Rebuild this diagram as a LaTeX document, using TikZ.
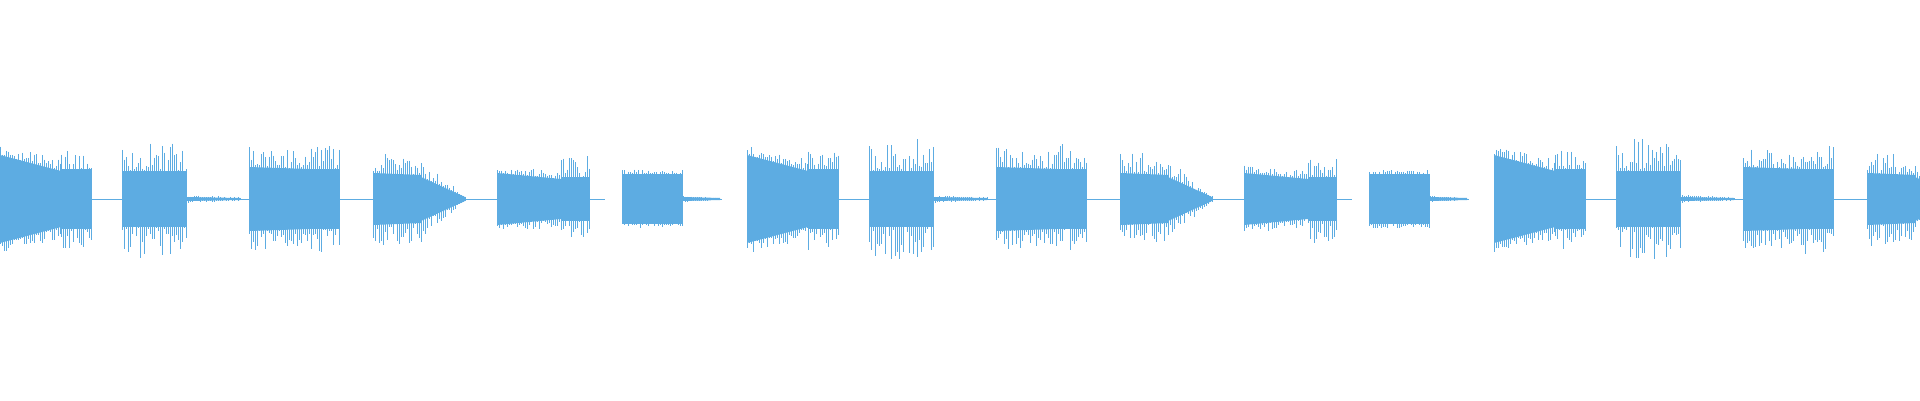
\documentclass[tikz,border=0pt]{standalone}
\definecolor{wave}{RGB}{93,172,226}
\newcommand{\wseg}[6]{%
  \fill[wave] (#1,-#3)--(#2,-#4)--(#2,#4)--(#1,#3)--cycle;
  \foreach \xx in {#1,\the\numexpr#1+2\relax,...,#2}{%
    \pgfmathsetmacro{\tt}{(\xx-#1)/(#2-#1+0.01)}%
    \pgfmathsetmacro{\hh}{#3+(#4-#3)*\tt}%
    \pgfmathsetmacro{\aa}{#5+(#6-#5)*\tt}%
    \pgfmathsetmacro{\up}{\hh+(\aa-\hh)*rnd^1.3}%
    \pgfmathsetmacro{\dn}{\hh+(\aa-\hh)*rnd^1.3}%
    \draw[wave,line width=0.9] (\xx,-\up)--(\xx,\dn);
  }}
\newcommand{\period}{%
  \draw[wave,line width=1] (92,0)--(122,0) (186,0)--(249,0) (340,0)--(373,0) (465,0)--(497,0) (590,0)--(605,0) (683,0)--(722,0);
  \wseg{0}{61}{44}{28}{54}{40}
  \wseg{61}{92}{30}{30}{52}{46}
  \wseg{122}{186}{28}{28}{60}{60}
  \wseg{186}{240}{2}{1}{4}{2}
  \wseg{249}{309}{32}{30}{52}{48}
  \wseg{309}{340}{30}{30}{56}{52}
  \wseg{373}{421}{26}{24}{48}{44}
  \wseg{421}{465}{22}{2}{40}{3}
  \wseg{497}{561}{26}{20}{34}{28}
  \wseg{561}{590}{22}{22}{44}{44}
  \wseg{622}{683}{25}{25}{30}{29}
  \wseg{683}{720}{2}{1}{3}{1}
}
\begin{document}
\begin{tikzpicture}[x=1pt,y=-1pt]
\useasboundingbox (0,0) rectangle (1920,400);
\pgfmathsetseed{7}
\begin{scope}
\clip (0,0) rectangle (1920,400);
\begin{scope}[shift={(0,199)}]\period\end{scope}
\begin{scope}[shift={(747,199)}]\period\end{scope}
\begin{scope}[shift={(1494,199)}]\period\end{scope}
\end{scope}
\end{tikzpicture}
\end{document}
